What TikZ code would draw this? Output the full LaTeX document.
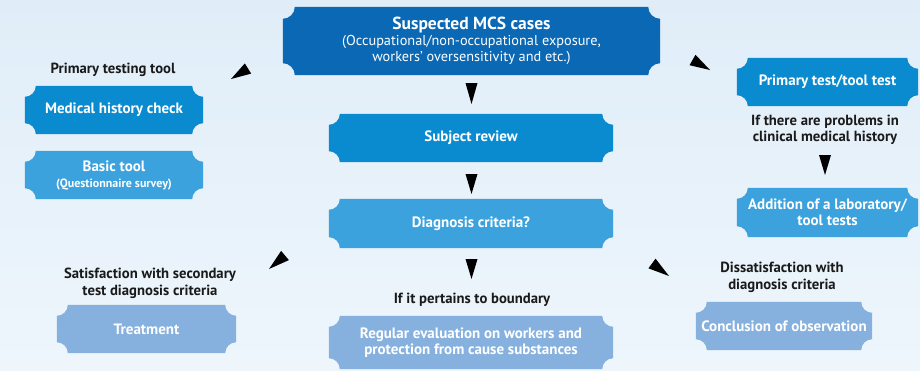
\documentclass[tikz,border=0pt]{standalone}
\usepackage{fontspec}
\setmainfont{PT Sans}
\usetikzlibrary{calc,backgrounds}
\definecolor{bgtop}{HTML}{E0EDF8}
\definecolor{bgbot}{HTML}{EEF6FC}
\definecolor{cdark}{HTML}{0A68B4}
\definecolor{cmid}{HTML}{0A8BCF}
\definecolor{clight}{HTML}{3BA2DD}
\definecolor{cpale}{HTML}{86B1DE}
\definecolor{ctxt}{HTML}{1A1A1A}
\newcommand\ticketbg[3]{%
  \fill[#2] ([xshift=#3]#1.south west) -- ([xshift=-#3]#1.south east)
    arc[start angle=180,end angle=90,radius=#3] -- ([yshift=-#3]#1.north east)
    arc[start angle=270,end angle=180,radius=#3] -- ([xshift=#3]#1.north west)
    arc[start angle=0,end angle=-90,radius=#3] -- ([yshift=#3]#1.south west)
    arc[start angle=90,end angle=0,radius=#3] -- cycle;}
\newcommand\arrowtip[2]{%
  \fill[black] ($(#1)!6pt!90:(#2)$) -- (#2) -- ($(#1)!6pt!-90:(#2)$) -- cycle;}
\tikzset{
  box/.style={inner sep=0pt, text=white, align=center,
    font=\fontsize{15}{16}\selectfont\bfseries},
  lbl/.style={inner sep=0pt, text=ctxt, align=center,
    font=\fontsize{14.7}{16.5}\selectfont\bfseries},
}
\begin{document}
\begin{tikzpicture}[x=1pt,y=1pt]
\useasboundingbox (0,0) rectangle (920,-370);

% boxes
\node[box, minimum width=377pt, minimum height=68pt] (top) at (471.5,-41) {%
  {\fontsize{17.5}{19}\selectfont Suspected MCS cases}\\[0pt]
  {\fontsize{14.3}{15}\mdseries\selectfont (Occupational/non-occupational exposure,}\\
  {\fontsize{14.3}{15}\mdseries\selectfont workers’ oversensitivity and etc.)}};
\node[box, minimum width=178pt, minimum height=48pt] (med) at (114,-110) {Medical history check};
\node[box, minimum width=178pt, minimum height=48pt] (basic) at (114,-175) {%
  Basic tool\\{\fontsize{12}{13}\selectfont (Questionnaire survey)}};
\node[box, minimum width=284pt, minimum height=48pt] (subj) at (471,-138) {Subject review};
\node[box, minimum width=284pt, minimum height=49pt] (diag) at (471,-223.5) {Diagnosis criteria?};
\node[box, minimum width=284pt, minimum height=53pt] (reg) at (471,-342.5) {%
  Regular evaluation on workers and\\protection from cause substances};
\node[box, minimum width=181pt, minimum height=48pt] (ptest) at (827.5,-82) {Primary test/tool test};
\node[box, minimum width=181pt, minimum height=49pt] (add) at (827.5,-212.5) {%
  Addition of a laboratory/\\tool tests};
\node[box, minimum width=179pt, minimum height=48pt] (treat) at (146.5,-329) {Treatment};
\node[box, minimum width=176pt, minimum height=48pt] (concl) at (784,-326) {Conclusion of observation};

\begin{scope}[on background layer]
  \shade[top color=bgtop,bottom color=bgbot] (0,0) rectangle (920,-370);
  \ticketbg{top}{cdark}{12pt}
  \ticketbg{med}{cmid}{11pt}
  \ticketbg{basic}{clight}{11pt}
  \ticketbg{subj}{cmid}{11pt}
  \ticketbg{diag}{clight}{11pt}
  \ticketbg{reg}{cpale}{11pt}
  \ticketbg{ptest}{cmid}{11pt}
  \ticketbg{add}{clight}{11pt}
  \ticketbg{treat}{cpale}{11pt}
  \ticketbg{concl}{cpale}{11pt}
\end{scope}

% labels
\node[lbl] (lprim) at (113,-70) {Primary testing tool};
\node[lbl] (lprob) at (825,-130) {If there are problems in\\clinical medical history};
\node[lbl] (lsat) at (150,-283.5) {Satisfaction with secondary\\test diagnosis criteria};
\node[lbl] (ldis) at (782,-277.5) {Dissatisfaction with\\diagnosis criteria};
\node[lbl] (lbnd) at (472,-300) {If it pertains to boundary};

% arrowheads
\coordinate (a1b) at (471.5,-83);  \coordinate (a1t) at (471.5,-104);
\coordinate (a2b) at (471.5,-174); \coordinate (a2t) at (471.5,-194);
\coordinate (a3b) at (471.5,-259); \coordinate (a3t) at (471.5,-279);
\coordinate (a4b) at (825,-155);   \coordinate (a4t) at (825,-175);
\coordinate (a5b) at (248,-68.5);  \coordinate (a5t) at (231,-79);
\coordinate (a6b) at (692.5,-60);  \coordinate (a6t) at (710,-70);
\coordinate (a7b) at (285,-255.5); \coordinate (a7t) at (269,-269);
\coordinate (a8b) at (652,-263.5); \coordinate (a8t) at (669,-276);
\arrowtip{a1b}{a1t}
\arrowtip{a2b}{a2t}
\arrowtip{a3b}{a3t}
\arrowtip{a4b}{a4t}
\arrowtip{a5b}{a5t}
\arrowtip{a6b}{a6t}
\arrowtip{a7b}{a7t}
\arrowtip{a8b}{a8t}
\end{tikzpicture}
\end{document}
